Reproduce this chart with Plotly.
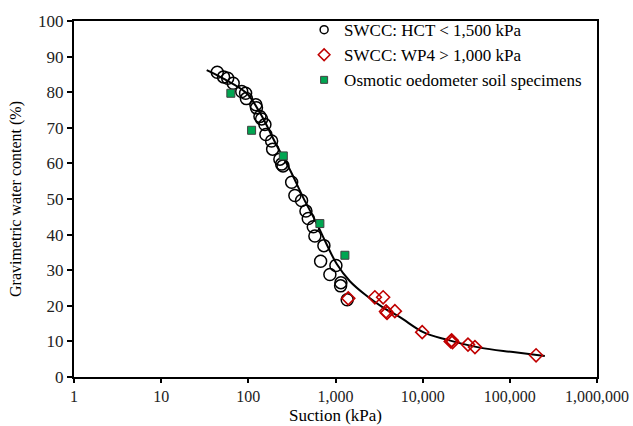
import plotly.graph_objects as go

# HCT SWCC data (suction kPa, gravimetric water content %)
hct_suction = [44, 52, 58, 67, 84, 93, 95, 122, 124, 136, 142, 155, 159, 185, 190,
               230, 241, 250, 314, 342, 408, 458, 487, 556, 580, 736, 675, 1011,
               862, 1153, 1144, 1362]
hct_w = [85.6, 84.3, 83.9, 82.5, 80.2, 79.7, 78.2, 76.5, 75.6, 73.2, 72.5, 70.9, 68.1,
         66.3, 64.0, 61.2, 59.8, 59.3, 54.7, 51.0, 49.6, 46.6, 44.5, 42.2, 39.6, 36.9,
         32.5, 31.3, 28.8, 26.5, 25.6, 21.7]

# WP4 SWCC data
wp4_suction = [1400, 2830, 3520, 3800, 3900, 4800, 9880, 21000, 21500, 22000, 33100, 39800, 200000]
wp4_w = [22.1, 22.4, 22.4, 18.4, 18.0, 18.5, 12.6, 10.0, 10.3, 9.8, 9.1, 8.4, 6.1]

# Osmotic oedometer specimens
osm_suction = [63, 109, 252, 662, 1282]
osm_w = [79.7, 69.3, 62.1, 43.1, 34.2]

# Fitted SWCC curve
fit_suction = [33.3, 51.1, 95.7, 136, 211, 300, 426, 607, 791, 1030, 1462, 2274,
               3524, 5480, 10140, 18800, 45300, 109000, 252000]
fit_w = [86.2, 83.9, 79.7, 74.2, 65.1, 58.2, 50.4, 43.2, 37.3, 31.8, 26.9, 22.8,
         19.5, 16.8, 12.6, 10.5, 8.25, 7.0, 5.9]

x_tickvals = [1, 10, 100, 1000, 10000, 100000, 1000000]
x_ticktext = ["1", "10", "100", "1,000", "10,000", "100,000", "1,000,000"]
y_tickvals = [0, 10, 20, 30, 40, 50, 60, 70, 80, 90, 100]

names = ["SWCC: HCT < 1,500 kPa", "SWCC: WP4 > 1,000 kPa", "Osmotic oedometer soil specimens"]
x_title = "Suction (kPa)"
y_title = "Gravimetric water content (%)"

FONT = "Liberation Serif"
red = "#C00000"
green = "#00A651"

fig = go.Figure()
fig.add_trace(go.Scatter(x=fit_suction, y=fit_w, mode="lines", line=dict(color="black", width=2, shape="spline"),
                         showlegend=False, hoverinfo="skip"))
fig.add_trace(go.Scatter(x=hct_suction, y=hct_w, mode="markers", showlegend=False,
                         marker=dict(symbol="circle-open", size=12, color="black", line=dict(width=1.5))))
fig.add_trace(go.Scatter(x=wp4_suction, y=wp4_w, mode="markers", showlegend=False,
                         marker=dict(symbol="diamond-open", size=10, color=red, line=dict(width=1.6))))
fig.add_trace(go.Scatter(x=osm_suction, y=osm_w, mode="markers", showlegend=False,
                         marker=dict(symbol="square", size=8, color=green, line=dict(width=1, color="#404040"))))

# legend-only entries with smaller symbols
fig.add_trace(go.Scatter(x=[None], y=[None], mode="markers", name=names[0],
                         marker=dict(symbol="circle-open", size=8, color="black", line=dict(width=1.5))))
fig.add_trace(go.Scatter(x=[None], y=[None], mode="markers", name=names[1],
                         marker=dict(symbol="diamond-open", size=9, color=red, line=dict(width=1.5))))
fig.add_trace(go.Scatter(x=[None], y=[None], mode="markers", name=names[2],
                         marker=dict(symbol="square", size=7, color=green, line=dict(width=1, color="#404040"))))

fig.update_layout(
    width=633, height=426,
    margin=dict(l=74, r=36, t=17, b=49),
    plot_bgcolor="white", paper_bgcolor="white",
    font=dict(family=FONT, color="black", size=17),
    legend=dict(x=0.44, y=1.025, xanchor="left", yanchor="top", bgcolor="rgba(0,0,0,0)",
                font=dict(family=FONT, size=17, color="black"), itemwidth=30),
    xaxis=dict(type="log", range=[0, 6], tickvals=x_tickvals, ticktext=x_ticktext,
               ticks="outside", ticklen=4, tickwidth=1.5, tickcolor="black",
               showline=True, linecolor="black", linewidth=2, mirror=True,
               showgrid=False, zeroline=False, automargin=False,
               tickfont=dict(family=FONT, size=16, color="#222")),
    yaxis=dict(range=[0, 100], tickvals=y_tickvals,
               ticks="outside", ticklen=5, tickwidth=1.5, tickcolor="black",
               showline=True, linecolor="black", linewidth=2, mirror=True,
               showgrid=False, zeroline=False, automargin=False,
               tickfont=dict(family=FONT, size=17, color="#222"),
               title=dict(text=y_title, font=dict(family=FONT, size=16), standoff=12)),
    annotations=[dict(text=x_title, xref="paper", yref="paper", x=0.5, y=-0.108,
                      xanchor="center", yanchor="middle", showarrow=False,
                      font=dict(family=FONT, size=17, color="black"))],
)

fig.write_html("out.html")
